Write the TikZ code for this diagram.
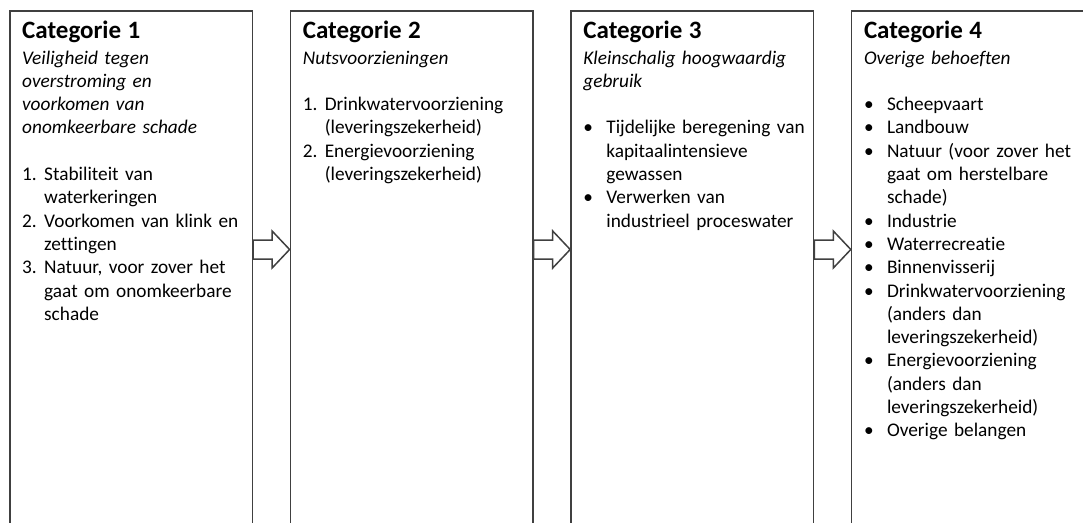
\documentclass[tikz,border=0pt]{standalone}
\usepackage{fontspec}
\setmainfont{Carlito}[Ligatures=NoCommon]
\usetikzlibrary{positioning,calc}

\definecolor{framegray}{HTML}{404040}
\newcommand{\cattitle}[1]{{\fontsize{25}{27}\selectfont\bfseries #1}}
\newcommand{\numitem}[1]{\makebox[22pt][l]{#1}}
\newcommand{\bulitem}{\makebox[23pt][l]{\textbullet}}
\newcommand{\numcont}{\hspace*{22pt}}
\newcommand{\bulcont}{\hspace*{23pt}}

\tikzset{
  catbox/.style={draw=framegray, line width=1.6pt, minimum width=242.5pt,
    minimum height=600pt, inner sep=0pt},
  cattext/.style={anchor=base west, align=left, text width=230pt, inner sep=0pt,
    font=\fontsize{19.3}{23.3}\selectfont},
  blockarrow/.style={draw=framegray, line width=1.5pt, fill=white, line join=miter}
}

\begin{document}
\begin{tikzpicture}[x=1pt,y=1pt]
  \useasboundingbox (0,0) rectangle (1083,-522);
  \clip (0,0) rectangle (1083,-522);

  \node[catbox, anchor=north west] (cat1) at (9,-10) {};
  \node[catbox, right=36.5pt of cat1] (cat2) {};
  \node[catbox, right=36.5pt of cat2] (cat3) {};
  \node[catbox, right=36.5pt of cat3] (cat4) {};

  \node[cattext] (txt1) at ($(cat1.north west)+(13,-28)$) {%
    \cattitle{Categorie 1}\\[2.7pt]
    \textit{Veiligheid tegen}\\
    \textit{overstroming en}\\
    \textit{voorkomen van}\\
    \textit{onomkeerbare schade}\\[23.3pt]
    \numitem{1.}Stabiliteit van\\
    \numcont waterkeringen\\
    \numitem{2.}Voorkomen van klink en\\
    \numcont zettingen\\
    \numitem{3.}Natuur, voor zover het\\
    \numcont gaat om onomkeerbare\\
    \numcont schade};

  \node[cattext] (txt2) at ($(cat2.north west)+(13,-28)$) {%
    \cattitle{Categorie 2}\\[2.7pt]
    \textit{Nutsvoorzieningen}\\[23.3pt]
    \numitem{1.}Drinkwatervoorziening\\
    \numcont (leveringszekerheid)\\
    \numitem{2.}Energievoorziening\\
    \numcont (leveringszekerheid)};

  \node[cattext] (txt3) at ($(cat3.north west)+(13,-28)$) {%
    \cattitle{Categorie 3}\\[2.7pt]
    \textit{Kleinschalig hoogwaardig}\\
    \textit{gebruik}\\[23.3pt]
    \bulitem Tijdelijke beregening van\\
    \bulcont kapitaalintensieve\\
    \bulcont gewassen\\
    \bulitem Verwerken van\\
    \bulcont industrieel proceswater};

  \node[cattext] (txt4) at ($(cat4.north west)+(13,-28)$) {%
    \cattitle{Categorie 4}\\[2.7pt]
    \textit{Overige behoeften}\\[23.3pt]
    \bulitem Scheepvaart\\
    \bulitem Landbouw\\
    \bulitem Natuur (voor zover het\\
    \bulcont gaat om herstelbare\\
    \bulcont schade)\\
    \bulitem Industrie\\
    \bulitem Waterrecreatie\\
    \bulitem Binnenvisserij\\
    \bulitem Drinkwatervoorziening\\
    \bulcont (anders dan\\
    \bulcont leveringszekerheid)\\
    \bulitem Energievoorziening\\
    \bulcont (anders dan\\
    \bulcont leveringszekerheid)\\
    \bulitem Overige belangen};

  \draw[blockarrow] ($(cat1.north east)+(0,-230)$) -- ++(19,0) -- ++(0,9)
    -- ($(cat2.north west)+(0,-239.5)$) -- ($(cat1.north east)+(19,-258)$)
    -- ++(0,9) -- ++(-19,0) -- cycle;
  \draw[blockarrow] ($(cat2.north east)+(0,-230)$) -- ++(19,0) -- ++(0,9)
    -- ($(cat3.north west)+(0,-239.5)$) -- ($(cat2.north east)+(19,-258)$)
    -- ++(0,9) -- ++(-19,0) -- cycle;
  \draw[blockarrow] ($(cat3.north east)+(0,-230)$) -- ++(19,0) -- ++(0,9)
    -- ($(cat4.north west)+(0,-239.5)$) -- ($(cat3.north east)+(19,-258)$)
    -- ++(0,9) -- ++(-19,0) -- cycle;
\end{tikzpicture}
\end{document}
